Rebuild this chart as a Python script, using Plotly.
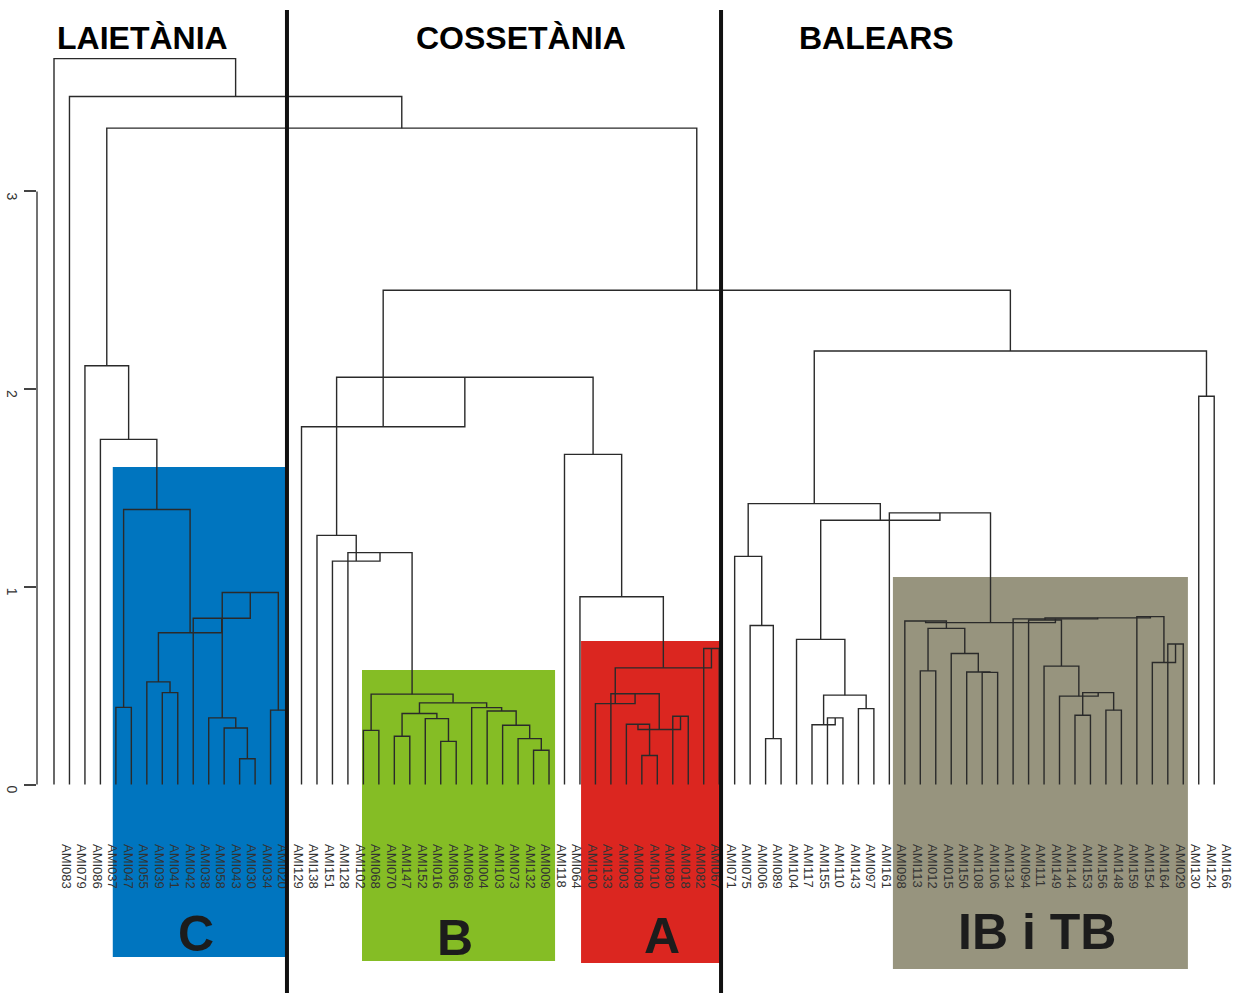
import plotly.graph_objects as go

# ---- leaf order (left to right) ----
leaves = [
    "AMI083", "AMI079", "AMI086", "AMI037", "AMI047", "AMI055", "AMI039", "AMI041",
    "AMI042", "AMI038", "AMI058", "AMI043", "AMI030", "AMI034", "AMI020", "AMI129",
    "AMI138", "AMI151", "AMI128", "AMI102", "AMI068", "AMI070", "AMI147", "AMI152",
    "AMI016", "AMI066", "AMI069", "AMI004", "AMI103", "AMI073", "AMI132", "AMI009",
    "AMI118", "AMI064", "AMI100", "AMI133", "AMI003", "AMI008", "AMI010", "AMI080",
    "AMI018", "AMI082", "AMI067", "AMI071", "AMI075", "AMI006", "AMI089", "AMI104",
    "AMI117", "AMI155", "AMI110", "AMI143", "AMI097", "AMI161", "AMI098", "AMI113",
    "AMI012", "AMI015", "AMI150", "AMI108", "AMI106", "AMI134", "AMI094", "AMI111",
    "AMI149", "AMI144", "AMI153", "AMI156", "AMI148", "AMI159", "AMI154", "AMI164",
    "AMI029", "AMI130", "AMI124", "AMI166",
]

# ---- merge steps: (left child, right child, height) ----
# a child is a leaf name (str) or the index of an earlier merge (int)
merges_laietania = [
    ("AMI047", "AMI055", 0.390),   # 0
    ("AMI030", "AMI034", 0.130),   # 1
    ("AMI043", 1, 0.286),          # 2
    ("AMI058", 2, 0.337),          # 3
    ("AMI020", "AMI129", 0.376),   # 4
    (3, 4, 0.971),                 # 5
    ("AMI038", 5, 0.841),          # 6
    ("AMI041", "AMI042", 0.465),   # 7
    ("AMI039", 7, 0.519),          # 8
    (8, 6, 0.768),                 # 9
    (0, 9, 1.391),                 # 10
    ("AMI037", 10, 1.746),         # 11
    ("AMI086", 11, 2.118),         # 12
]
merges_cossetania = [
    ("AMI068", "AMI070", 0.274),   # 13
    ("AMI147", "AMI152", 0.244),   # 14
    ("AMI066", "AMI069", 0.218),   # 15
    ("AMI016", 15, 0.333),         # 16
    (14, 16, 0.359),               # 17
    ("AMI009", "AMI118", 0.173),   # 18
    ("AMI132", 18, 0.232),         # 19
    ("AMI073", 19, 0.300),         # 20
    ("AMI103", 20, 0.372),         # 21
    ("AMI004", 21, 0.389),         # 22
    (17, 22, 0.413),               # 23
    (13, 23, 0.457),               # 24
    ("AMI102", 24, 1.173),         # 25
    ("AMI128", 25, 1.130),         # 26
    ("AMI151", 26, 1.260),         # 27
    ("AMI010", "AMI080", 0.147),   # 28
    ("AMI008", 28, 0.305),         # 29
    ("AMI018", "AMI082", 0.345),   # 30
    (29, 30, 0.278),               # 31
    ("AMI003", 31, 0.459),         # 32
    ("AMI133", 32, 0.409),         # 33
    ("AMI067", "AMI071", 0.688),   # 34
    (33, 34, 0.590),               # 35
    ("AMI100", 35, 0.950),         # 36
    ("AMI064", 36, 1.670),         # 37
    (27, 37, 2.060),               # 38
    ("AMI138", 38, 1.810),         # 39
]
merges_balears = [
    ("AMI089", "AMI104", 0.232),   # 40
    ("AMI006", 40, 0.804),         # 41
    ("AMI075", 41, 1.154),         # 42
    ("AMI110", "AMI143", 0.337),   # 43
    ("AMI155", 43, 0.302),         # 44
    ("AMI097", "AMI161", 0.384),   # 45
    (44, 45, 0.452),               # 46
    ("AMI117", 46, 0.734),         # 47
    ("AMI012", "AMI015", 0.575),   # 48
    ("AMI106", "AMI134", 0.567),   # 49
    ("AMI108", 49, 0.569),         # 50
    ("AMI150", 50, 0.663),         # 51
    (48, 51, 0.790),               # 52
    ("AMI113", 52, 0.827),         # 53
    ("AMI153", "AMI156", 0.350),   # 54
    ("AMI148", "AMI159", 0.376),   # 55
    (54, 55, 0.465),               # 56
    ("AMI144", 56, 0.447),         # 57
    ("AMI149", 57, 0.599),         # 58
    ("AMI111", 58, 0.832),         # 59
    ("AMI029", "AMI130", 0.711),   # 60
    ("AMI164", 60, 0.617),         # 61
    ("AMI154", 61, 0.849),         # 62
    (59, 62, 0.843),               # 63
    ("AMI094", 63, 0.838),         # 64
    (53, 64, 0.819),               # 65
    ("AMI098", 65, 1.374),         # 66
    (47, 66, 1.337),               # 67
    (42, 67, 1.421),               # 68
    ("AMI124", "AMI166", 1.964),   # 69
    (68, 69, 2.193),               # 70
]
merges_top = [
    (39, 70, 2.500),               # 71
    (12, 71, 3.320),               # 72
    ("AMI079", 72, 3.480),         # 73
    ("AMI083", 73, 3.672),         # 74
]
merges = merges_laietania + merges_cossetania + merges_balears + merges_top

y_ticks = [0, 1, 2, 3]
regions = ["LAIETÀNIA", "COSSETÀNIA", "BALEARS"]
groups = ["C", "B", "A", "IB i TB"]

# ---- build the dendrogram segments ----
leaf_pos = {name: i for i, name in enumerate(leaves)}
node_x, node_h = [], []
seg_x, seg_y = [], []


def child_xy(c):
    if isinstance(c, str):
        return float(leaf_pos[c]), 0.0
    return node_x[c], node_h[c]


for left, right, h in merges:
    xl, hl = child_xy(left)
    xr, hr = child_xy(right)
    seg_x += [xl, xl, xr, xr, None]
    seg_y += [hl, h, h, hr, None]
    node_x.append((xl + xr) / 2)
    node_h.append(h)

# ---- page geometry ----
W, H = 1242, 994
ML, MR, MT, MB = 37, 10, 40, 194
plot_h = H - MT - MB
x_range = [-1.099, 76.15]
y_range = [-0.0784, 3.766]


def py(pix):
    """vertical pixel -> paper fraction"""
    return (H - MB - pix) / plot_h


fig = go.Figure()
fig.add_trace(go.Scatter(
    x=seg_x, y=seg_y, mode="lines",
    line=dict(color="#2a2a2a", width=1.4),
    hoverinfo="skip", showlegend=False,
))

# coloured cluster boxes (x in leaf units, y in pixels)
boxes = [
    (3.80, 15.02, 467, 957, "#0075BF"),
    (19.91, 32.39, 670, 961, "#85BD25"),
    (34.07, 43.18, 641, 963, "#DB2620"),
    (54.23, 73.30, 577, 969, "#97947E"),
]
for x0, x1, top, bot, col in boxes:
    fig.add_shape(type="rect", xref="x", yref="paper", x0=x0, x1=x1,
                  y0=py(bot), y1=py(top), fillcolor=col, line=dict(width=0),
                  layer="below")

# region dividers
for xd in [15.06, 43.12]:
    fig.add_shape(type="line", xref="x", yref="paper", x0=xd, x1=xd,
                  y0=py(993), y1=py(10), line=dict(color="#111111", width=4),
                  layer="above")

# y-axis spine spanning the tick range only
fig.add_shape(type="line", xref="paper", yref="y", x0=0, x1=0,
              y0=y_ticks[0], y1=y_ticks[-1], line=dict(color="#444444", width=1.5))

# region titles
for name, xc in zip(regions, [5.69, 30.19, 53.17]):
    fig.add_annotation(text=f"<b>{name}</b>", xref="x", yref="paper", x=xc, y=py(38),
                       showarrow=False, xanchor="center", yanchor="middle",
                       font=dict(family="Liberation Sans, Arial", size=32, color="#000000"))

# cluster letters
for name, xc, ypix in zip(groups, [9.18, 25.92, 39.3, 63.54], [934, 938, 936, 932]):
    fig.add_annotation(text=f"<b>{name}</b>", xref="x", yref="paper", x=xc, y=py(ypix),
                       showarrow=False, xanchor="center", yanchor="middle",
                       font=dict(family="Liberation Sans, Arial", size=50, color="#1c1c1c"))

fig.update_layout(
    width=W, height=H,
    margin=dict(l=ML, r=MR, t=MT, b=MB, pad=0),
    paper_bgcolor="white", plot_bgcolor="rgba(0,0,0,0)",
    showlegend=False,
    xaxis=dict(
        range=x_range, showgrid=False, zeroline=False, showline=False,
        automargin=False,
        tickmode="array", tickvals=list(range(len(leaves))), ticktext=leaves,
        tickangle=90, ticks="", ticklabelstandoff=43, ticklabelshift=12,
        tickfont=dict(family="Liberation Sans, Arial", size=13, color="#333333"),
    ),
    yaxis=dict(
        range=y_range, showgrid=False, zeroline=False, showline=False,
        automargin=False,
        tickmode="array", tickvals=y_ticks, ticktext=[str(v) for v in y_ticks],
        ticks="outside", ticklen=12, tickwidth=1.5, tickcolor="#444444",
        tickangle=90, ticklabelstandoff=0, ticklabelshift=7,
        tickfont=dict(family="Liberation Sans, Arial", size=14, color="#333333"),
    ),
)

fig.write_html("out.html")
